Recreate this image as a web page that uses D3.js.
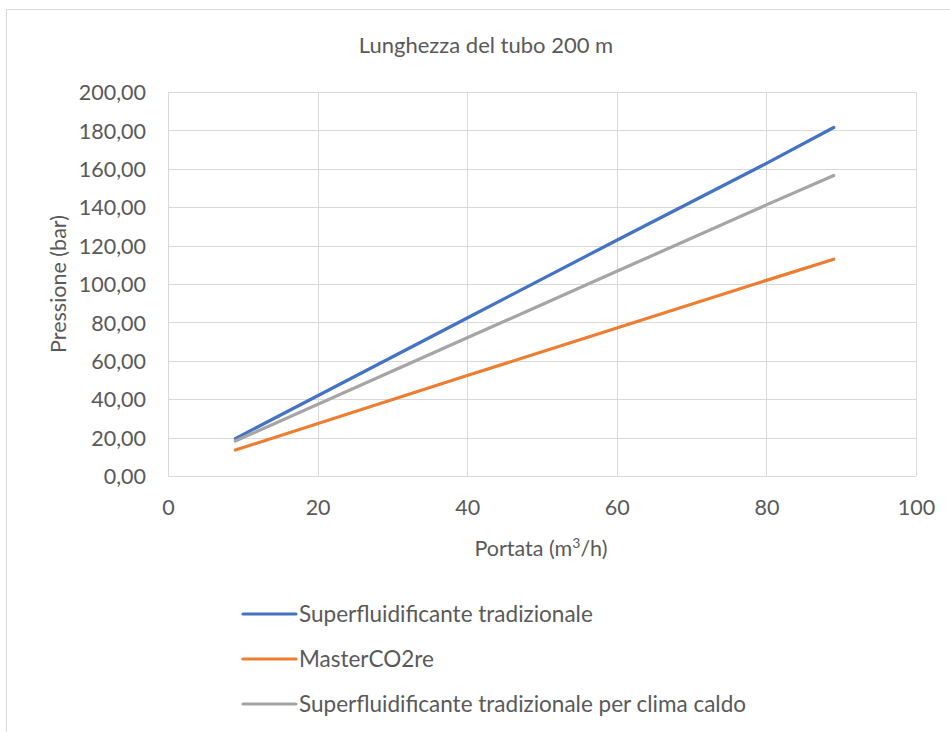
<!DOCTYPE html>
<html>
<head>
<meta charset="utf-8">
<script src="https://cdn.jsdelivr.net/npm/d3@7"></script>
<style>
  html, body { margin: 0; padding: 0; background: #fff; }
  svg text { font-family: Lato, "Noto Sans", sans-serif; fill: #595959; }
</style>
</head>
<body>
<svg id="chart" width="950" height="732"></svg>
<script>
// Flow rate (m³/h) at which pressures were sampled
const portata = [9, 40, 60, 80, 89];

// Pumping pressure (bar) for each admixture, 200 m of pipe
const tradizionale = [19.5, 82.3, 122.8, 162.8, 181.5];
const masterCO2re = [13.5, 52.3, 77.1, 101.9, 112.9];
const climaCaldo = [18.2, 72.0, 106.6, 141.2, 156.5];

const seriesNames = [
  "Superfluidificante tradizionale",
  "MasterCO2re",
  "Superfluidificante tradizionale per clima caldo"
];
const seriesColors = ["#4472C4", "#ED7D31", "#A5A5A5"];

const xTicks = [0, 20, 40, 60, 80, 100];
const yTicks = [0, 20, 40, 60, 80, 100, 120, 140, 160, 180, 200];

const svg = d3.select("#chart");

// chart frame
svg.append("rect")
  .attr("x", 6.5).attr("y", 9.5)
  .attr("width", 960).attr("height", 740)
  .attr("fill", "none").attr("stroke", "#D9D9D9").attr("stroke-width", 1);

const plot = { left: 168, right: 916, top: 92, bottom: 476 };

const x = d3.scaleLinear().domain([0, 100]).range([plot.left, plot.right]);
const y = d3.scaleLinear().domain([0, 200]).range([plot.bottom, plot.top]);

const fmt = v => d3.format(".2f")(v).replace(".", ",");
const labelSize = 21.5;

// gridlines
const grid = svg.append("g").attr("stroke", "#D9D9D9").attr("stroke-width", 1);
grid.selectAll("line.h").data(yTicks).join("line")
  .attr("class", "h")
  .attr("x1", plot.left).attr("x2", plot.right)
  .attr("y1", d => Math.round(y(d)) + 0.5).attr("y2", d => Math.round(y(d)) + 0.5);
grid.selectAll("line.v").data(xTicks).join("line")
  .attr("class", "v")
  .attr("y1", plot.top).attr("y2", plot.bottom)
  .attr("x1", d => Math.round(x(d)) + 0.5).attr("x2", d => Math.round(x(d)) + 0.5);

// axes (labels only, Excel style)
const yAxis = svg.append("g")
  .attr("transform", `translate(${plot.left - 22},0)`)
  .call(d3.axisLeft(y).tickValues(yTicks).tickFormat(fmt).tickSize(0).tickPadding(0));
yAxis.select(".domain").remove();
yAxis.selectAll("text").attr("font-size", labelSize).attr("dy", "0.36em");

const xAxis = svg.append("g")
  .attr("transform", `translate(0,${plot.bottom + 24})`)
  .call(d3.axisBottom(x).tickValues(xTicks).tickFormat(d3.format("d")).tickSize(0).tickPadding(0));
xAxis.select(".domain").remove();
xAxis.selectAll("text").attr("font-size", labelSize).attr("dy", "0.71em");

// series lines
const series = [tradizionale, masterCO2re, climaCaldo];
const line = d3.line().x((d, i) => x(portata[i])).y(d => y(d));
svg.append("g").selectAll("path").data(series).join("path")
  .attr("d", line)
  .attr("fill", "none")
  .attr("stroke", (d, i) => seriesColors[i])
  .attr("stroke-width", 3.2)
  .attr("stroke-linecap", "round")
  .attr("stroke-linejoin", "round");

// title
svg.append("text")
  .attr("x", 486).attr("y", 53)
  .attr("text-anchor", "middle")
  .attr("font-size", 22)
  .text("Lunghezza del tubo 200 m");

// axis titles
const xTitle = svg.append("text")
  .attr("x", 541).attr("y", 556)
  .attr("text-anchor", "middle")
  .attr("font-size", labelSize);
xTitle.append("tspan").text("Portata (m");
xTitle.append("tspan").attr("font-size", 14).attr("dy", -8).text("3");
xTitle.append("tspan").attr("dy", 8).text("/h)");

svg.append("text")
  .attr("transform", "translate(66,284) rotate(-90)")
  .attr("text-anchor", "middle")
  .attr("font-size", labelSize)
  .text("Pressione (bar)");

// legend
const legendY = [614, 659, 704];
const legend = svg.append("g").selectAll("g").data(seriesNames).join("g")
  .attr("transform", (d, i) => `translate(0,${legendY[i]})`);
legend.append("line")
  .attr("x1", 243).attr("x2", 296)
  .attr("y1", 0).attr("y2", 0)
  .attr("stroke", (d, i) => seriesColors[i])
  .attr("stroke-width", 3.2)
  .attr("stroke-linecap", "round");
legend.append("text")
  .attr("x", 299).attr("y", 0).attr("dy", "0.36em")
  .attr("font-size", 22.5)
  .text(d => d);
</script>
</body>
</html>
